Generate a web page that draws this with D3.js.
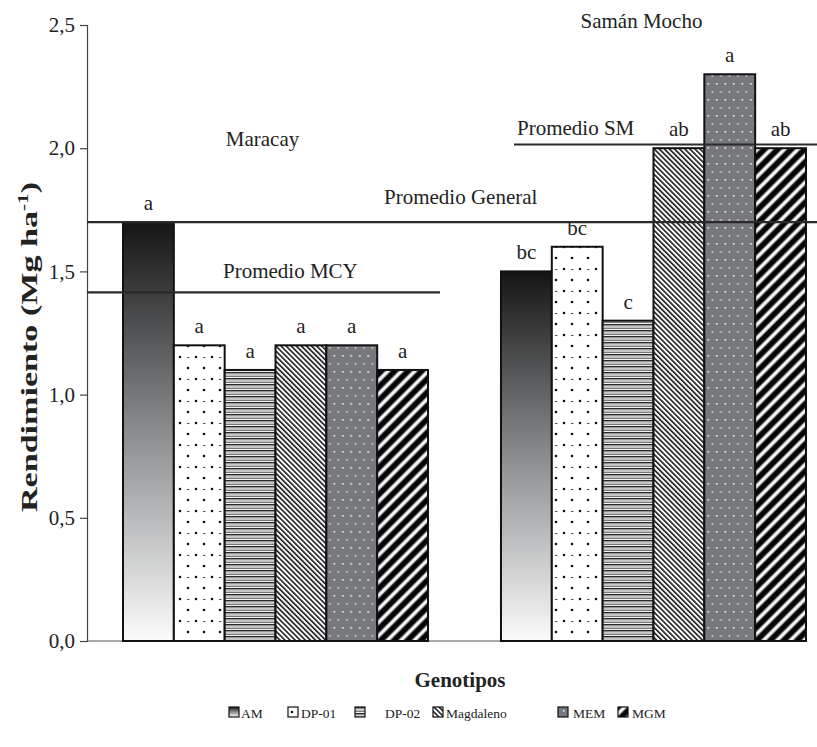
<!DOCTYPE html>
<html>
<head>
<meta charset="utf-8">
<script src="https://cdn.jsdelivr.net/npm/d3@7"></script>
<style>
  html, body { margin: 0; padding: 0; background: #fff; }
  svg { display: block; font-family: "Liberation Serif", "Times New Roman", serif; }
</style>
</head>
<body>
<svg id="chart" width="817" height="747"></svg>
<script>
// Localidades y genotipos
const groups = ["Maracay", "Samán Mocho"];
const genotypes = ["AM", "DP-01", "DP-02", "Magdaleno", "MEM", "MGM"];

// Rendimiento por genotipo (Mg/ha)
const maracay = [1.70, 1.20, 1.10, 1.20, 1.20, 1.10];
const samanMocho = [1.50, 1.60, 1.30, 2.00, 2.30, 2.00];

// Letras de separación de medias
const lettersMaracay = ["a", "a", "a", "a", "a", "a"];
const lettersSamanMocho = ["bc", "bc", "c", "ab", "a", "ab"];

// Promedios
const meanNames = ["Promedio General", "Promedio MCY", "Promedio SM"];
const meanValues = [1.70, 1.415, 2.015];

const yTicks = [0, 0.5, 1.0, 1.5, 2.0, 2.5];

const series = [maracay, samanMocho];
const letters = [lettersMaracay, lettersSamanMocho];

const svg = d3.select("#chart");
const ink = "#222";

const y = d3.scaleLinear().domain([0, 2.5]).range([641, 25]);
const x0 = d3.scaleBand().domain(groups).range([123, 806]).paddingInner(0.193);
const x1 = d3.scaleBand().domain(genotypes).range([0, x0.bandwidth()]);
const axisX = 87;

// ---- fill patterns ----
const defs = svg.append("defs");

const grad = defs.append("linearGradient").attr("id", "f-AM")
  .attr("x1", 0).attr("y1", 0).attr("x2", 0).attr("y2", 1);
grad.append("stop").attr("offset", "0%").attr("stop-color", "#151515");
grad.append("stop").attr("offset", "50%").attr("stop-color", "#8a8c8e");
grad.append("stop").attr("offset", "100%").attr("stop-color", "#fbfbfb");

// dotted white
const pDots = defs.append("pattern").attr("id", "f-DP-01")
  .attr("patternUnits", "userSpaceOnUse").attr("width", 16).attr("height", 22);
pDots.append("rect").attr("width", 16).attr("height", 22).attr("fill", "#fff");
pDots.append("circle").attr("cx", 4).attr("cy", 5).attr("r", 1.3).attr("fill", "#111");
pDots.append("circle").attr("cx", 12).attr("cy", 16).attr("r", 1.3).attr("fill", "#111");
pDots.append("rect").attr("x", 11).attr("y", 5).attr("width", 2.5).attr("height", 1).attr("fill", "#555");

// horizontal stripes
const pH = defs.append("pattern").attr("id", "f-DP-02")
  .attr("patternUnits", "userSpaceOnUse").attr("width", 8).attr("height", 6);
pH.append("rect").attr("width", 8).attr("height", 6).attr("fill", "#f0f0f0");
pH.append("rect").attr("y", 0).attr("width", 8).attr("height", 1.5).attr("fill", "#2a2a2a");
pH.append("rect").attr("y", 1.5).attr("width", 8).attr("height", 1).attr("fill", "#a0a0a0");
pH.append("rect").attr("y", 3.7).attr("width", 8).attr("height", 1.1).attr("fill", "#5a5a5a");

// thin diagonal "\" lines
const pD = defs.append("pattern").attr("id", "f-Magdaleno")
  .attr("patternUnits", "userSpaceOnUse").attr("width", 3.6).attr("height", 10)
  .attr("patternTransform", "rotate(-45)");
pD.append("rect").attr("width", 3.6).attr("height", 10).attr("fill", "#fff");
pD.append("rect").attr("width", 1.6).attr("height", 10).attr("fill", "#1a1a1a");

// grey with white dots
const pG = defs.append("pattern").attr("id", "f-MEM")
  .attr("patternUnits", "userSpaceOnUse").attr("width", 8.5).attr("height", 16);
pG.append("rect").attr("width", 8.5).attr("height", 16).attr("fill", "#76787b");
pG.append("rect").attr("x", 2).attr("y", 3).attr("width", 1.6).attr("height", 1.6).attr("fill", "#f2f2f2");
pG.append("rect").attr("x", 6.2).attr("y", 11).attr("width", 1.6).attr("height", 1.6).attr("fill", "#d8d8d8");

// black with wide white "/" stripes
const pB = defs.append("pattern").attr("id", "f-MGM")
  .attr("patternUnits", "userSpaceOnUse").attr("width", 9.5).attr("height", 10)
  .attr("patternTransform", "rotate(45)");
pB.append("rect").attr("width", 9.5).attr("height", 10).attr("fill", "#050505");
pB.append("rect").attr("x", 2.5).attr("width", 4.5).attr("height", 10).attr("fill", "#777");
pB.append("rect").attr("x", 3.3).attr("width", 2.9).attr("height", 10).attr("fill", "#fafafa");

const fillOf = g => `url(#f-${g})`;

// ---- y axis ----
const yAxis = d3.axisLeft(y)
  .tickValues(yTicks)
  .tickSize(7)
  .tickPadding(5)
  .tickFormat(d => d3.format(".1f")(d).replace(".", ","));

const gy = svg.append("g").attr("transform", `translate(${axisX},0)`).call(yAxis);
gy.select(".domain").attr("stroke", "#444").attr("stroke-width", 1.2);
gy.selectAll(".tick line").attr("stroke", "#444").attr("stroke-width", 1.2);
gy.selectAll(".tick text")
  .attr("font-family", "Liberation Serif, serif")
  .attr("font-size", 21).attr("fill", ink);

// x baseline
svg.append("line")
  .attr("x1", axisX).attr("x2", 806)
  .attr("y1", y(0)).attr("y2", y(0))
  .attr("stroke", "#555").attr("stroke-width", 1.2);

// ---- bars ----
const bars = [];
groups.forEach((grp, gi) => {
  genotypes.forEach((gen, i) => {
    bars.push({ grp, gen, value: series[gi][i], letter: letters[gi][i] });
  });
});

svg.append("g").selectAll("rect").data(bars).join("rect")
  .attr("x", d => x0(d.grp) + x1(d.gen))
  .attr("y", d => y(d.value))
  .attr("width", x1.bandwidth())
  .attr("height", d => y(0) - y(d.value))
  .attr("fill", d => fillOf(d.gen))
  .attr("stroke", "#111").attr("stroke-width", 2);

svg.append("g").selectAll("text").data(bars).join("text")
  .attr("x", d => x0(d.grp) + x1(d.gen) + x1.bandwidth() / 2)
  .attr("y", d => y(d.value) - 12)
  .attr("text-anchor", "middle")
  .attr("font-size", 21).attr("fill", ink)
  .text(d => d.letter);

// ---- mean lines ----
const meanSpans = [[axisX, 817], [axisX, 440], [514, 817]];
const meanLabelX = [384, 223, 517];
const meanLabelGap = [18, 14, 10];

meanNames.forEach((name, i) => {
  svg.append("line")
    .attr("x1", meanSpans[i][0]).attr("x2", meanSpans[i][1])
    .attr("y1", y(meanValues[i])).attr("y2", y(meanValues[i]))
    .attr("stroke", "#2a2a2a").attr("stroke-width", 2.2);
  svg.append("text")
    .attr("x", meanLabelX[i])
    .attr("y", y(meanValues[i]) - meanLabelGap[i])
    .attr("font-size", 21).attr("fill", ink)
    .text(name);
});

// ---- location labels ----
svg.append("text")
  .attr("x", x0("Maracay") + x0.bandwidth() / 2 - 13).attr("y", 146)
  .attr("text-anchor", "middle").attr("font-size", 21).attr("fill", ink)
  .text("Maracay");
svg.append("text")
  .attr("x", x0("Samán Mocho") + x0.bandwidth() / 2 - 12).attr("y", 28)
  .attr("text-anchor", "middle").attr("font-size", 21).attr("fill", ink)
  .text("Samán Mocho");

// ---- axis titles ----
// the vertical title is drawn elongated along its reading direction
const yTitle = svg.append("text")
  .attr("transform", "translate(37,347) rotate(-90) scale(1.42,1)")
  .attr("text-anchor", "middle")
  .attr("font-size", 24).attr("font-weight", "bold").attr("fill", ink);
yTitle.append("tspan").text("Rendimiento (Mg ha");
yTitle.append("tspan").attr("dy", -9).attr("font-size", 15).text("-1");
yTitle.append("tspan").attr("dy", 9).text(")");

svg.append("text")
  .attr("x", 460).attr("y", 687)
  .attr("text-anchor", "middle")
  .attr("font-size", 21).attr("font-weight", "bold").attr("fill", ink)
  .text("Genotipos");

// ---- legend ----
const legendLabels = ["AM", "DP-01", "DP-02", "Magdaleno", "MEM", "MGM"];
const legendBoxX = [229, 288, 355, 433, 558, 618];
const legendTextX = [241, 301, 385, 446, 573, 632];
const legend = svg.append("g").attr("transform", "translate(0,707)");
genotypes.forEach((gen, i) => {
  legend.append("rect")
    .attr("x", legendBoxX[i]).attr("y", 0).attr("width", 10).attr("height", 10)
    .attr("fill", fillOf(gen)).attr("stroke", "#111").attr("stroke-width", 1.2);
  legend.append("text")
    .attr("x", legendTextX[i]).attr("y", 10.5)
    .attr("font-size", 13.5).attr("fill", ink)
    .text(legendLabels[i]);
});
</script>
</body>
</html>
